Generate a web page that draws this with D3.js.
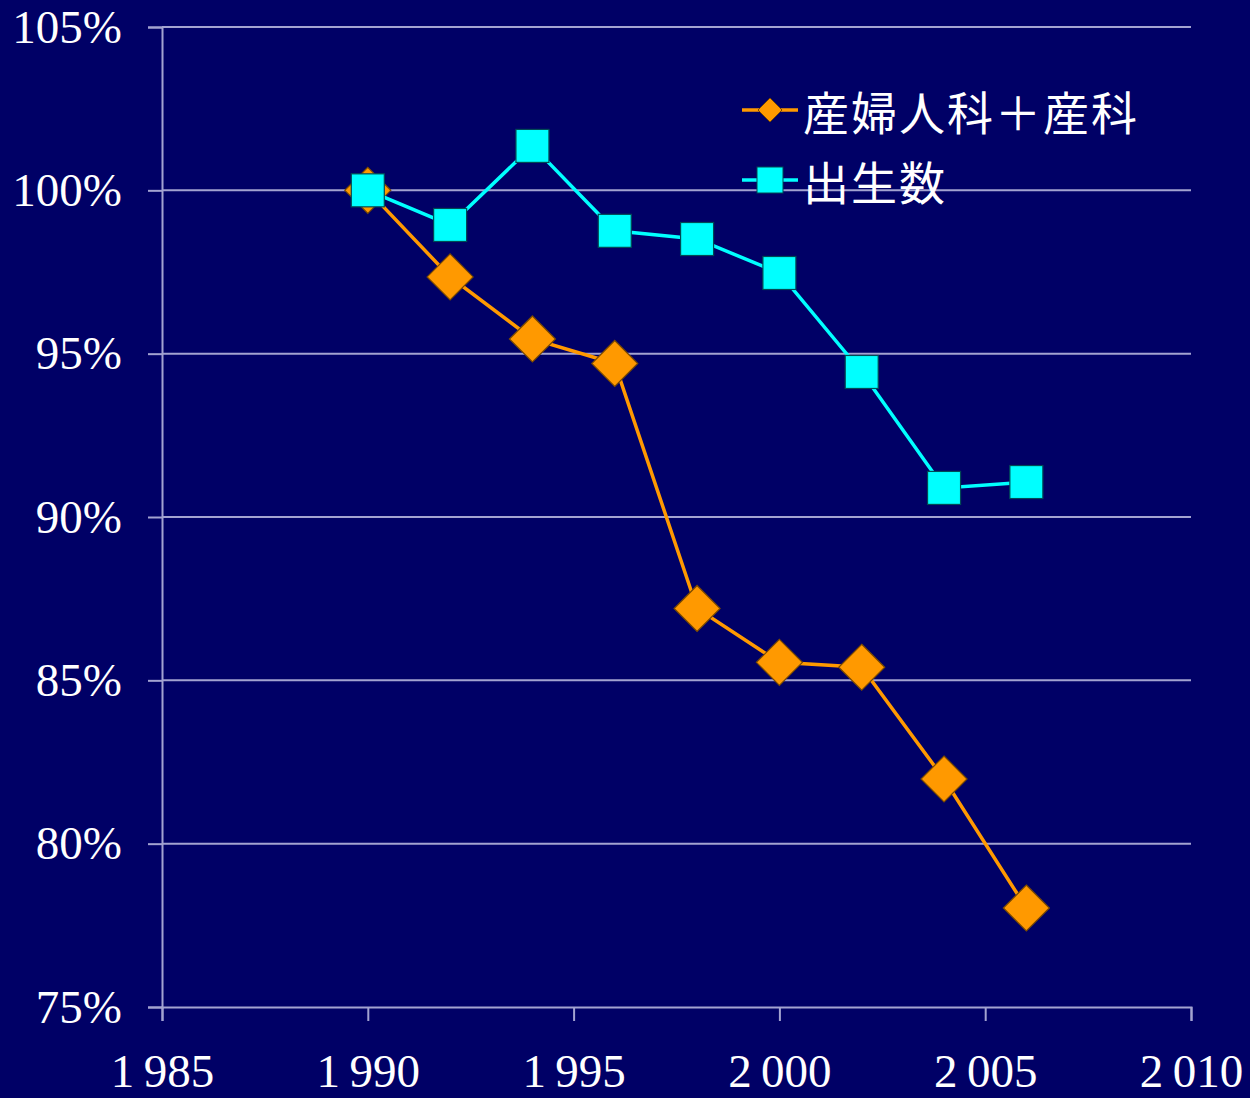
<!DOCTYPE html>
<html>
<head>
<meta charset="utf-8">
<script src="https://cdn.jsdelivr.net/npm/d3@7"></script>
<style>
  html, body { margin: 0; padding: 0; background: #000066; }
</style>
</head>
<body>
<div id="chart"></div>
<script>
// data
const years = [1990, 1992, 1994, 1996, 1998, 2000, 2002, 2004, 2006];
const obstetrics = [100, 97.35, 95.45, 94.7, 87.2, 85.55, 85.4, 81.98, 78.03];
const births = [100, 98.94, 101.36, 98.76, 98.51, 97.47, 94.44, 90.89, 91.07];
const seriesNames = ["産婦人科＋産科", "出生数"];
const xTicks = [1985, 1990, 1995, 2000, 2005, 2010];
const yTicks = [75, 80, 85, 90, 95, 100, 105];

const fullWidth = 1250;
const fullHeight = 1098;
const margin = { top: 27, right: 59, bottom: 91, left: 162 };
const width = fullWidth - margin.left - margin.right;
const height = fullHeight - margin.top - margin.bottom;

const bg = "#000066";
const gridColor = "#a3a3d1";
const orange = "#ff9900";
const cyan = "#00ffff";
const serif = "'Liberation Serif', 'DejaVu Serif', serif";

const svg = d3.select("#chart")
  .append("svg")
  .attr("width", fullWidth)
  .attr("height", fullHeight)
  .style("background-color", bg);

const chart = svg.append("g")
  .attr("transform", `translate(${margin.left},${margin.top})`);

const x = d3.scaleLinear().domain([1985, 2010]).range([0, width]);
const y = d3.scaleLinear().domain([75, 105]).range([height, 0]);

// === Gridlines ===
chart.append("g")
  .selectAll("line")
  .data(yTicks.filter(d => d > 75))
  .enter()
  .append("line")
  .attr("x1", 0)
  .attr("x2", width)
  .attr("y1", d => y(d))
  .attr("y2", d => y(d))
  .attr("stroke", gridColor)
  .attr("stroke-width", 2);

// === Y Axis ===
const yAxis = chart.append("g")
  .call(d3.axisLeft(y).tickValues(yTicks).tickSize(14).tickPadding(26).tickFormat(d => d + "%"));
yAxis.select(".domain").attr("stroke", gridColor).attr("stroke-width", 2);
yAxis.selectAll(".tick line").attr("stroke", gridColor).attr("stroke-width", 2);
yAxis.selectAll("text")
  .style("fill", "white")
  .style("font-family", serif)
  .style("font-size", "47px");

// === X Axis ===
const xAxis = chart.append("g")
  .attr("transform", `translate(0, ${height})`)
  .call(d3.axisBottom(x).tickValues(xTicks).tickSize(14).tickPadding(33)
    .tickFormat(d => String(d).slice(0, 1) + "\u2009" + String(d).slice(1)));
xAxis.select(".domain").attr("stroke", gridColor).attr("stroke-width", 2);
xAxis.selectAll(".tick line").attr("stroke", gridColor).attr("stroke-width", 2);
xAxis.selectAll("text")
  .style("fill", "white")
  .style("font-family", serif)
  .style("font-size", "47px");

// === Lines ===
const line = d3.line().x(d => x(d[0])).y(d => y(d[1]));
const orangeData = years.map((yr, i) => [yr, obstetrics[i]]);
const cyanData = years.map((yr, i) => [yr, births[i]]);

chart.append("path")
  .datum(orangeData)
  .attr("d", line)
  .attr("fill", "none")
  .attr("stroke", orange)
  .attr("stroke-width", 3.5);

chart.selectAll("path.diamond")
  .data(orangeData)
  .enter()
  .append("path")
  .attr("class", "diamond")
  .attr("transform", d => `translate(${x(d[0])},${y(d[1])})`)
  .attr("d", "M0,-23L23,0L0,23L-23,0Z")
  .attr("fill", orange)
  .attr("stroke", "#7a4a00")
  .attr("stroke-width", 1.2);

chart.append("path")
  .datum(cyanData)
  .attr("d", line)
  .attr("fill", "none")
  .attr("stroke", cyan)
  .attr("stroke-width", 3.5);

chart.selectAll("rect.square")
  .data(cyanData)
  .enter()
  .append("rect")
  .attr("class", "square")
  .attr("x", d => x(d[0]) - 16.5)
  .attr("y", d => y(d[1]) - 16.5)
  .attr("width", 33)
  .attr("height", 33)
  .attr("fill", cyan)
  .attr("stroke", "#004a55")
  .attr("stroke-width", 1.2);

// === Legend ===
const legend = svg.append("g").attr("transform", "translate(742, 0)");
const legendRows = [
  { name: seriesNames[0], color: orange, cy: 110, shape: "diamond" },
  { name: seriesNames[1], color: cyan, cy: 180, shape: "square" }
];
legendRows.forEach(r => {
  legend.append("line")
    .attr("x1", 0).attr("x2", 56)
    .attr("y1", r.cy).attr("y2", r.cy)
    .attr("stroke", r.color).attr("stroke-width", 3.5);
  if (r.shape === "diamond") {
    legend.append("path")
      .attr("transform", `translate(28,${r.cy})`)
      .attr("d", "M0,-12L12,0L0,12L-12,0Z")
      .attr("fill", r.color).attr("stroke", "#7a4a00").attr("stroke-width", 1);
  } else {
    legend.append("rect")
      .attr("x", 15).attr("y", r.cy - 13).attr("width", 26).attr("height", 26)
      .attr("fill", r.color).attr("stroke", "#004a55").attr("stroke-width", 1);
  }
  legend.append("text")
    .attr("x", 61)
    .attr("y", r.cy)
    .attr("dominant-baseline", "central")
    .style("fill", "white")
    .style("font-family", "'Noto Sans CJK JP', sans-serif")
    .style("font-size", "46px")
    .style("font-weight", "400")
    .style("letter-spacing", "2px")
    .text(r.name);
});
</script>
</body>
</html>
